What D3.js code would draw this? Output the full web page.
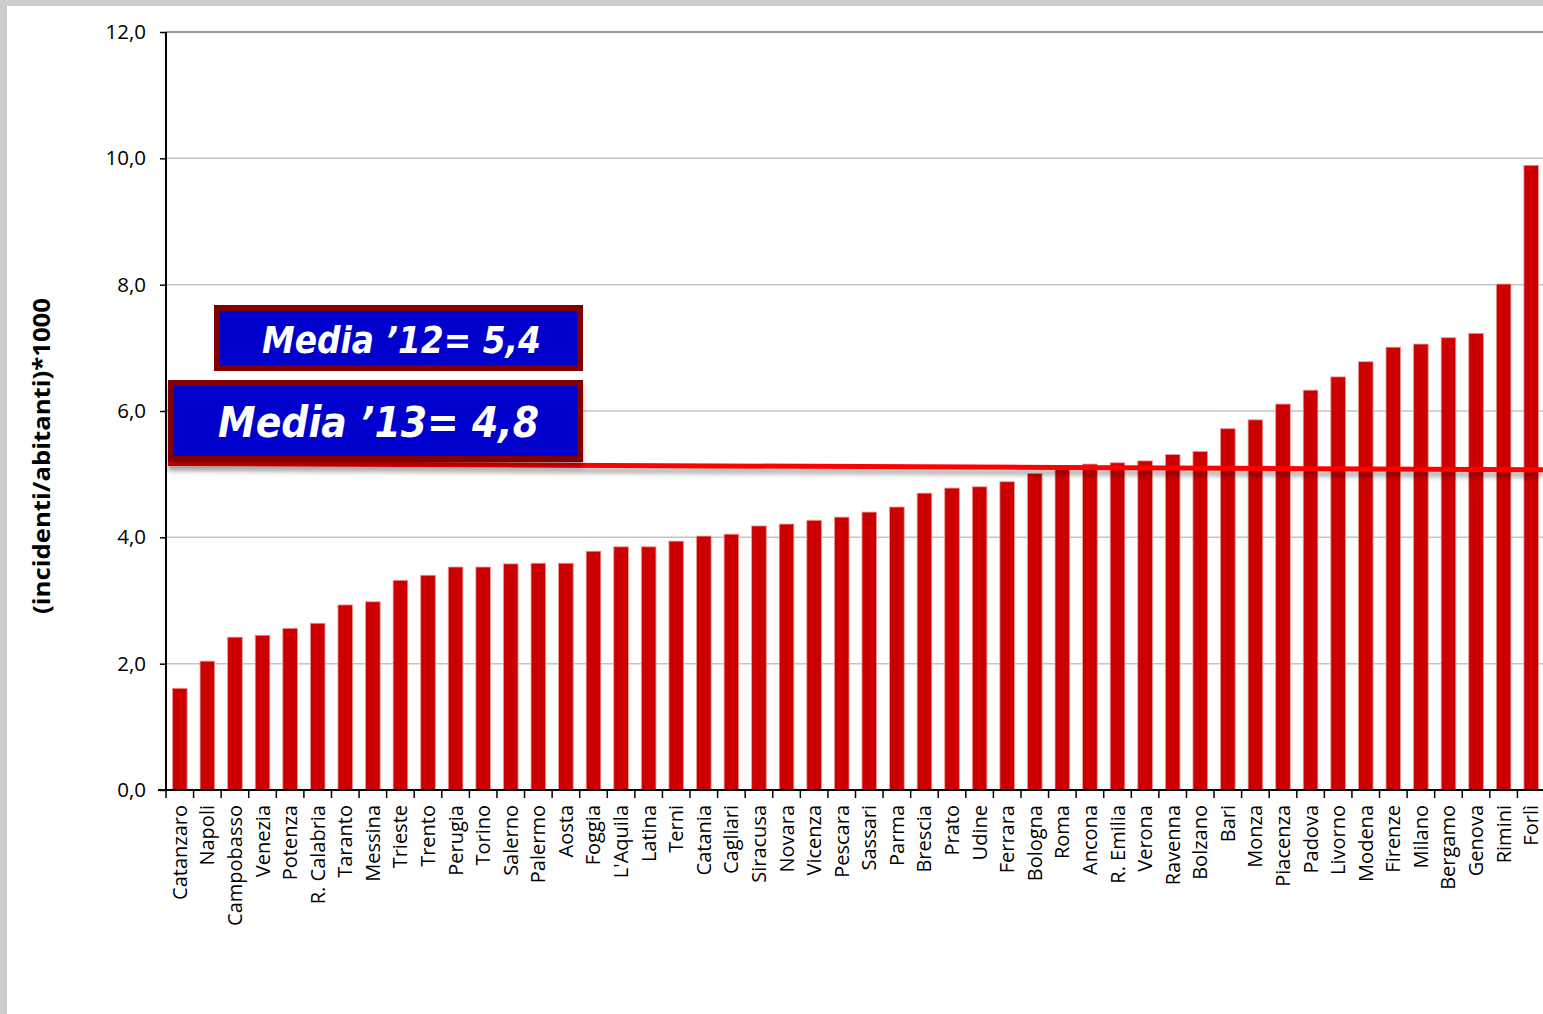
<!DOCTYPE html>
<html>
<head>
<meta charset="utf-8">
<script src="https://cdn.jsdelivr.net/npm/d3@7"></script>
<style>
  body { margin: 0; background: #fff; }
  svg { display: block; }
</style>
</head>
<body>
<svg id="chart"></svg>
<script>
const cities = ["Catanzaro", "Napoli", "Campobasso", "Venezia", "Potenza", "R. Calabria", "Taranto", "Messina",
    "Trieste", "Trento", "Perugia", "Torino", "Salerno", "Palermo", "Aosta", "Foggia", "L'Aquila", "Latina",
    "Terni", "Catania", "Cagliari", "Siracusa", "Novara", "Vicenza", "Pescara", "Sassari", "Parma", "Brescia",
    "Prato", "Udine", "Ferrara", "Bologna", "Roma", "Ancona", "R. Emilia", "Verona", "Ravenna", "Bolzano",
    "Bari", "Monza", "Piacenza", "Padova", "Livorno", "Modena", "Firenze", "Milano", "Bergamo", "Genova",
    "Rimini", "Forlì"];

const rates = [1.61, 2.04, 2.42, 2.45, 2.56, 2.64, 2.93, 2.98, 3.32, 3.40, 3.53, 3.53, 3.58, 3.59, 3.59,
    3.78, 3.85, 3.85, 3.94, 4.02, 4.05, 4.18, 4.21, 4.27, 4.32, 4.40, 4.48, 4.70, 4.78, 4.80, 4.88, 5.01,
    5.08, 5.16, 5.18, 5.21, 5.31, 5.36, 5.72, 5.86, 6.11, 6.33, 6.54, 6.78, 7.01, 7.06, 7.16, 7.23, 8.01, 9.89];

const yTicks = [0, 2, 4, 6, 8, 10, 12];

// red reference line, start and end level
const lineLevels = [5.17, 5.07];

const notes = [
    {label: "Media \u201912= 5,4"},
    {label: "Media \u201913= 4,8"}
];

const W = 1543, H = 1014;
const plot = {left: 166, right: 1545, top: 32, bottom: 790};

const svg = d3.select("#chart").attr("width", W).attr("height", H);

const defs = svg.append("defs");
const shadow = defs.append("filter").attr("id", "shadow")
    .attr("x", "-5%").attr("y", "-50%").attr("width", "110%").attr("height", "400%");
shadow.append("feDropShadow")
    .attr("dx", 0).attr("dy", 5).attr("stdDeviation", 2.5)
    .attr("flood-color", "#000").attr("flood-opacity", 0.35);

// grey frame
svg.append("rect").attr("x", 0).attr("y", 0).attr("width", W).attr("height", 6).attr("fill", "#cccccc");
svg.append("rect").attr("x", 0).attr("y", 0).attr("width", 7).attr("height", H).attr("fill", "#cccccc");

const x = d3.scaleBand().domain(cities).range([plot.left, plot.right]).paddingInner(0.47).paddingOuter(0.235);
const y = d3.scaleLinear().domain([0, 12]).range([plot.bottom, plot.top]);

// grid
svg.append("g").selectAll("line")
    .data(yTicks.filter(d => d > 0))
    .join("line")
    .attr("x1", plot.left).attr("x2", W)
    .attr("y1", d => y(d)).attr("y2", d => y(d))
    .attr("stroke", d => d === 12 ? "#9a9a9a" : "#c4c4c4")
    .attr("stroke-width", d => d === 12 ? 2 : 1.5);

// bars
svg.append("g").selectAll("rect")
    .data(rates)
    .join("rect")
    .attr("x", (d, i) => x(cities[i]))
    .attr("y", d => y(d))
    .attr("width", x.bandwidth())
    .attr("height", d => y(0) - y(d))
    .attr("fill", "#cc0000")
    .attr("stroke", "#ee9999")
    .attr("stroke-width", 0.8);

// y axis
const yAxis = svg.append("g")
    .attr("transform", `translate(${plot.left},0)`)
    .call(d3.axisLeft(y).tickValues(yTicks).tickSize(6).tickPadding(14)
        .tickFormat(d => d3.format(".1f")(d).replace(".", ",")));
yAxis.select(".domain").attr("stroke", "#000").attr("stroke-width", 2).attr("d", `M0,${plot.top}V${plot.bottom}`);
yAxis.selectAll(".tick line").attr("stroke", "#000").attr("stroke-width", 1.5);
yAxis.selectAll(".tick text")
    .attr("font-family", "'Open Sans', sans-serif").attr("font-size", 20.5).attr("fill", "#000");

// x axis
const xAxis = svg.append("g").attr("transform", `translate(0,${plot.bottom})`);
xAxis.append("line").attr("x1", plot.left - 8).attr("x2", W).attr("y1", 0).attr("y2", 0)
    .attr("stroke", "#000").attr("stroke-width", 2);
const step = x.step();
xAxis.selectAll(".tk")
    .data(cities)
    .join("line")
    .attr("class", "tk")
    .attr("x1", d => x(d) - x.paddingInner() * step / 2)
    .attr("x2", d => x(d) - x.paddingInner() * step / 2)
    .attr("y1", 0).attr("y2", 8)
    .attr("stroke", "#000").attr("stroke-width", 1.5);
xAxis.selectAll("text")
    .data(cities)
    .join("text")
    .attr("transform", d => `translate(${x(d) + x.bandwidth() / 2 + 7},15) rotate(-90)`)
    .attr("text-anchor", "end")
    .attr("font-family", "'Open Sans', sans-serif")
    .attr("font-size", 20)
    .attr("fill", "#000")
    .text(d => d);

// y label
svg.append("text")
    .attr("transform", "translate(50,456) rotate(-90)")
    .attr("text-anchor", "middle")
    .attr("font-family", "'Open Sans', sans-serif")
    .attr("font-weight", "bold")
    .attr("font-size", 23)
    .attr("textLength", 316)
    .attr("lengthAdjust", "spacingAndGlyphs")
    .text("(incidenti/abitanti)*1000");

// red line with shadow
svg.append("line")
    .attr("x1", 168).attr("x2", W)
    .attr("y1", y(lineLevels[0])).attr("y2", y(lineLevels[1]))
    .attr("stroke", "#ff0000").attr("stroke-width", 5)
    .attr("filter", "url(#shadow)");

// annotation boxes
const boxes = [
    {x: 217, y: 308, w: 363, h: 60, tx: 262, ty: 353, tw: 279, fs: 38},
    {x: 171, y: 383, w: 409, h: 76, tx: 218, ty: 437, tw: 321, fs: 42}
];
boxes.forEach((b, i) => {
    svg.append("rect")
        .attr("x", b.x).attr("y", b.y).attr("width", b.w).attr("height", b.h)
        .attr("fill", "#0000cc").attr("stroke", "#800000").attr("stroke-width", 6)
        .attr("filter", i === 1 ? "url(#shadow)" : null);
    svg.append("text")
        .attr("x", b.tx).attr("y", b.ty)
        .attr("font-family", "'DejaVu Sans', Verdana, sans-serif")
        .attr("font-weight", "bold").attr("font-style", "italic")
        .attr("font-size", b.fs)
        .attr("fill", "#fff")
        .attr("textLength", b.tw)
        .attr("lengthAdjust", "spacingAndGlyphs")
        .text(notes[i].label);
});
</script>
</body>
</html>
